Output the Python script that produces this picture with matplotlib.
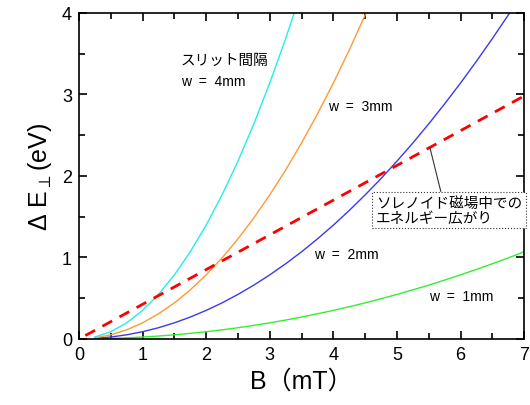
import numpy as np
import matplotlib
matplotlib.use('Agg')
import matplotlib.pyplot as plt
from matplotlib.ticker import MultipleLocator

plt.rcParams['font.family'] = ['Liberation Sans', 'Noto Sans CJK JP', 'DejaVu Sans']

# values (every 0.25 mT)
b = [0.25, 0.5, 0.75, 1.0, 1.25, 1.5, 1.75, 2.0, 2.25, 2.5, 2.75, 3.0, 3.25, 3.5,
     3.75, 4.0, 4.25, 4.5, 4.75, 5.0, 5.25, 5.5, 5.75, 6.0, 6.25, 6.5, 6.75, 7.0]
e_w1 = [0.001, 0.005, 0.012, 0.022, 0.034, 0.049, 0.067, 0.087, 0.110, 0.136, 0.165, 0.196,
        0.230, 0.267, 0.307, 0.349, 0.394, 0.441, 0.492, 0.545, 0.601, 0.659, 0.721, 0.785,
        0.852, 0.921, 0.993, 1.068]
e_w2 = [0.005, 0.022, 0.049, 0.087, 0.136, 0.196, 0.267, 0.349, 0.441, 0.545, 0.659, 0.785,
        0.921, 1.068, 1.226, 1.395, 1.575, 1.766, 1.967, 2.180, 2.403, 2.638, 2.883, 3.139,
        3.406, 3.684, 3.973, 4.273]
e_w3 = [0.012, 0.049, 0.110, 0.196, 0.307, 0.441, 0.601, 0.785, 0.993, 1.226, 1.484, 1.766,
        2.072, 2.403, 2.759, 3.139, 3.544, 3.973, 4.427]
e_w4 = [0.022, 0.087, 0.196, 0.349, 0.545, 0.785, 1.068, 1.395, 1.766, 2.180, 2.638, 3.139,
        3.684, 4.273]
b_sol = [0.1, 7.0]
e_sol = [0.04, 2.98]

fig = plt.figure(figsize=(5.3, 4.06), dpi=100)
ax = fig.add_axes([0.149, 0.163, 0.840, 0.803])

ax.plot(b, e_w1, color='#33ee33', lw=1.0)
ax.plot(b, e_w2, color='#3a3aee', lw=1.0)
ax.plot(b[:len(e_w3)], e_w3, color='#ff9933', lw=1.0)
ax.plot(b[:len(e_w4)], e_w4, color='#22eeee', lw=1.0)
ax.plot(b_sol, e_sol, color='#ff0000', lw=2.0, ls=(0, (4, 3)))

ax.set_xlim(0, 7)
ax.set_ylim(0, 4)
ax.xaxis.set_major_locator(MultipleLocator(1))
ax.xaxis.set_minor_locator(MultipleLocator(0.5))
ax.yaxis.set_major_locator(MultipleLocator(1))
ax.yaxis.set_minor_locator(MultipleLocator(0.5))
ax.tick_params(which='both', direction='in', top=True, right=True, width=1.2)
ax.tick_params(which='major', length=6, labelsize=13, pad=5)
ax.tick_params(which='minor', length=4)
for s in ax.spines.values():
    s.set_linewidth(1.2)

ax.set_xlabel('B（mT）', fontsize=18, labelpad=4)
ax.set_ylabel('Δ E$_{\\perp}$(eV)', fontsize=18, labelpad=6)

ax.text(1.6, 3.42, 'スリット間隔', fontsize=10.5, va='center')
ax.text(1.6, 3.16, 'w  =  4mm', fontsize=10, va='center')
ax.text(3.92, 2.86, 'w  =  3mm', fontsize=10, va='center')
ax.text(3.7, 1.04, 'w  =  2mm', fontsize=10, va='center')
ax.text(5.5, 0.52, 'w  =  1mm', fontsize=10, va='center')

ax.annotate('ソレノイド磁場中での\nエネルギー広がり', xy=(5.52, 2.34), xytext=(4.67, 1.58),
            fontsize=10.5, va='center', ha='left', linespacing=1.1,
            bbox=dict(boxstyle='square,pad=0.25', fc='white', ec='#333333', ls=':', lw=0.8),
            arrowprops=dict(arrowstyle='-', color='#333333', lw=0.8, shrinkA=0, shrinkB=0,
                            relpos=(0.45, 1.0)))

fig.savefig('out.png', dpi=100)
